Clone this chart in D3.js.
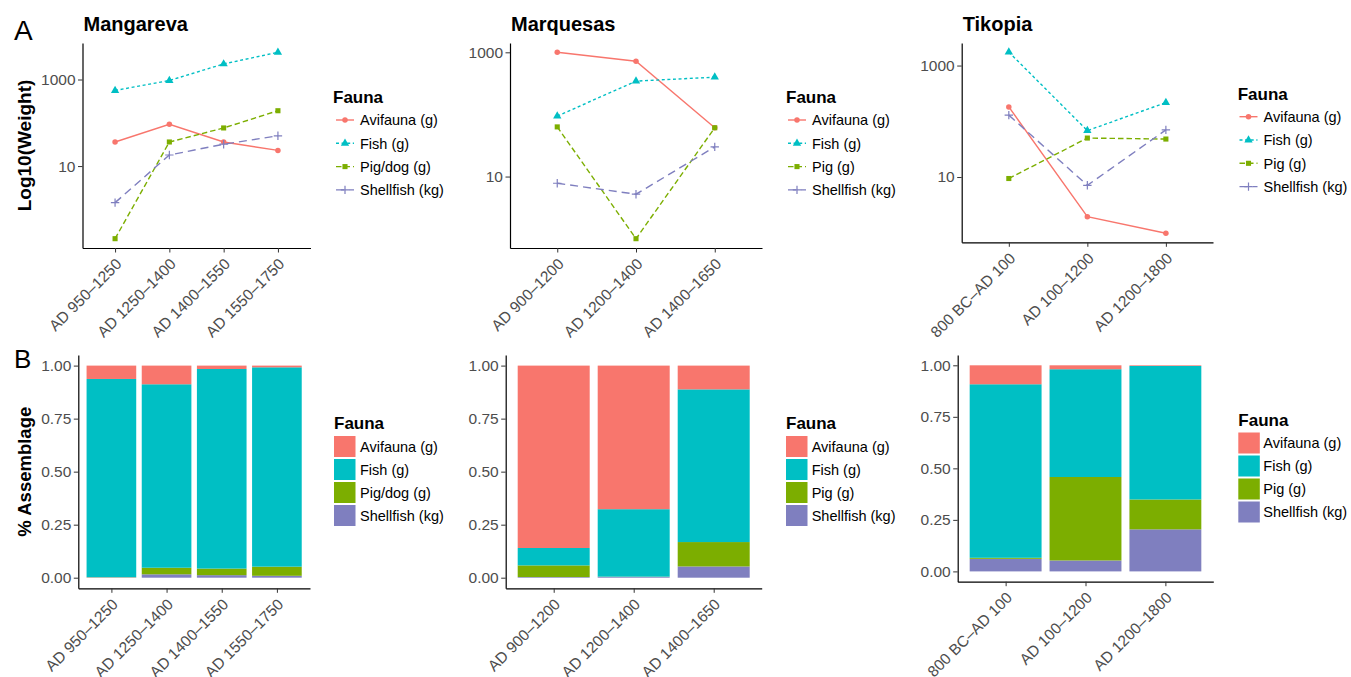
<!DOCTYPE html>
<html><head><meta charset="utf-8">
<script src="https://cdn.jsdelivr.net/npm/d3@7"></script>
<style>
body{margin:0;background:#fff;}
svg{display:block;font-family:"Liberation Sans",Arial,Helvetica,sans-serif;}
</style></head><body>
<svg id="chart" width="1351" height="677"></svg>
<script>
// ---------------- DATA ----------------
const faunaMangareva = ["Avifauna (g)", "Fish (g)", "Pig/dog (g)", "Shellfish (kg)"];
const faunaOther = ["Avifauna (g)", "Fish (g)", "Pig (g)", "Shellfish (kg)"];

const mangarevaPeriods = ["AD 950\u20131250", "AD 1250\u20131400", "AD 1400\u20131550", "AD 1550\u20131750"];
const marquesasPeriods = ["AD 900\u20131200", "AD 1200\u20131400", "AD 1400\u20131650"];
const tikopiaPeriods = ["800 BC\u2013AD 100", "AD 100\u20131200", "AD 1200\u20131800"];

// Weights (panel A, log scale)
const mangarevaAvifauna = [36, 92, 36, 23];
const mangarevaFish = [558, 950, 2290, 4250];
const mangarevaPig = [0.21, 36, 76, 190];
const mangarevaShellfish = [1.43, 18, 32, 50];

const marquesasAvifauna = [1000, 718, 61];
const marquesasFish = [94, 344, 398];
const marquesasPig = [63, 1.0, 61];
const marquesasShellfish = [7.8, 5.2, 30];

const tikopiaAvifauna = [181, 1.94, 0.98];
const tikopiaFish = [1746, 68, 216];
const tikopiaPig = [9.4, 50, 48];
const tikopiaShellfish = [129, 7.1, 70];

// Proportions (panel B)
const mangarevaShareAvifauna = [0.063, 0.088, 0.016, 0.008];
const mangarevaShareFish = [0.934, 0.865, 0.941, 0.940];
const mangarevaSharePig = [0.001, 0.031, 0.031, 0.043];
const mangarevaShareShellfish = [0.002, 0.016, 0.012, 0.009];

const marquesasShareAvifauna = [0.860, 0.677, 0.112];
const marquesasShareFish = [0.082, 0.318, 0.720];
const marquesasSharePig = [0.055, 0.001, 0.115];
const marquesasShareShellfish = [0.003, 0.004, 0.053];

const tikopiaShareAvifauna = [0.092, 0.019, 0.003];
const tikopiaShareFish = [0.842, 0.523, 0.648];
const tikopiaSharePig = [0.005, 0.405, 0.145];
const tikopiaShareShellfish = [0.061, 0.053, 0.204];

const logTicks = [10, 1000];
const shareTicks = [0, 0.25, 0.5, 0.75, 1];

// ---------------- STYLE / LAYOUT ----------------
const COLORS = ["#F8766D", "#00BFC4", "#7CAE00", "#7F7FBF"];
const DASH = [null, "3,2.6", "5.5,3", "8,5"];
const SHAPES = ["circle", "triangle", "square", "plus"];
const TICK_FONT = 15.5, LEG_FONT = 14.5;

const sites = [
  {name: "Mangareva", periods: mangarevaPeriods, fauna: faunaMangareva,
   weights: [mangarevaAvifauna, mangarevaFish, mangarevaPig, mangarevaShellfish],
   shares: [mangarevaShareAvifauna, mangarevaShareFish, mangarevaSharePig, mangarevaShareShellfish]},
  {name: "Marquesas", periods: marquesasPeriods, fauna: faunaOther,
   weights: [marquesasAvifauna, marquesasFish, marquesasPig, marquesasShellfish],
   shares: [marquesasShareAvifauna, marquesasShareFish, marquesasSharePig, marquesasShareShellfish]},
  {name: "Tikopia", periods: tikopiaPeriods, fauna: faunaOther,
   weights: [tikopiaAvifauna, tikopiaFish, tikopiaPig, tikopiaShellfish],
   shares: [tikopiaShareAvifauna, tikopiaShareFish, tikopiaSharePig, tikopiaShareShellfish]}
];

const lineBoxes = [
  {x0: 82.5, x1: 310.5, y0: 43, y1: 248, lx: 333, lyTitle: 103, ly: 120, keyCx: 345, tx: 360},
  {x0: 510, x1: 762, y0: 43, y1: 248, lx: 786, lyTitle: 103, ly: 120, keyCx: 797, tx: 812},
  {x0: 961.7, x1: 1213, y0: 43, y1: 242.3, lx: 1237.7, lyTitle: 99.5, ly: 116.7, keyCx: 1248.5, tx: 1263.5}
];
const barBoxes = [
  {x0: 78.3, x1: 310, y0: 355, y1: 588.3, lx: 334, lyTitle: 428.5, ky: 436, tx: 360},
  {x0: 505.7, x1: 761.7, y0: 355, y1: 588.3, lx: 786, lyTitle: 428.5, ky: 436, tx: 811.7},
  {x0: 957.7, x1: 1213.3, y0: 355, y1: 581.7, lx: 1238.3, lyTitle: 426, ky: 432.5, tx: 1263.3}
];

const svg = d3.select("#chart");

function styleAxis(g) {
  g.select(".domain").attr("stroke", "#000").attr("stroke-width", 1.2);
  g.selectAll(".tick line").attr("stroke", "#333").attr("stroke-width", 1);
  g.selectAll(".tick text").attr("fill", "#4D4D4D").style("font-size", TICK_FONT + "px")
    .style("font-family", '"Liberation Sans",Arial,sans-serif');
}

function drawXAxis(g, x, y1) {
  const ax = g.append("g").attr("transform", `translate(0,${y1})`)
    .call(d3.axisBottom(x).tickSize(4.5).tickSizeOuter(0));
  styleAxis(ax);
  ax.selectAll(".tick text").attr("x", 0).attr("y", 0).attr("dy", 0)
    .attr("transform", "translate(7,17) rotate(-45)").style("text-anchor", "end");
}

function symbolPath(shape) {
  if (shape === "circle") return d3.symbol(d3.symbolCircle, 24)();
  if (shape === "triangle") return d3.symbol(d3.symbolTriangle, 30)();
  if (shape === "square") return d3.symbol(d3.symbolSquare, 26)();
  return "M-4.2,0H4.2M0,-4.2V4.2";
}
function drawPoint(g, shape, color, cx, cy) {
  const p = g.append("path").attr("d", symbolPath(shape)).attr("transform", `translate(${cx},${cy})`);
  if (shape === "plus") p.attr("fill", "none").attr("stroke", color).attr("stroke-width", 1.2);
  else p.attr("fill", color);
}

// ---------------- PANEL A ----------------
sites.forEach((s, si) => {
  const b = lineBoxes[si];
  const g = svg.append("g");
  const x = d3.scalePoint().domain(s.periods).range([b.x0, b.x1]).padding(0.6);
  const logs = s.weights.flat().map(v => Math.log10(v));
  const lo = d3.min(logs), hi = d3.max(logs), pad = (hi - lo) * 0.05;
  const y = d3.scaleLog().domain([10 ** (lo - pad), 10 ** (hi + pad)]).range([b.y1, b.y0]);

  const line = d3.line().x((d, i) => x(s.periods[i])).y(d => y(d));
  s.weights.forEach((vals, k) => {
    g.append("path").datum(vals).attr("d", line).attr("fill", "none")
      .attr("stroke", COLORS[k]).attr("stroke-width", 1.4)
      .attr("stroke-dasharray", DASH[k]);
  });
  s.weights.forEach((vals, k) => {
    vals.forEach((v, i) => drawPoint(g, SHAPES[k], COLORS[k], x(s.periods[i]), y(v)));
  });

  const ay = g.append("g").attr("transform", `translate(${b.x0},0)`)
    .call(d3.axisLeft(y).tickValues(logTicks).tickFormat(d3.format("d")).tickSize(4.5).tickSizeOuter(0).tickPadding(2.5));
  styleAxis(ay);
  drawXAxis(g, x, b.y1);

  g.append("text").attr("x", b.x0 + 1).attr("y", 31).text(s.name)
    .style("font-size", "20px").style("font-weight", "bold").attr("fill", "#000");

  // legend
  g.append("text").attr("x", b.lx).attr("y", b.lyTitle).text("Fauna")
    .style("font-size", "17px").style("font-weight", "bold");
  s.fauna.forEach((f, k) => {
    const cy = b.ly + 23.3 * k;
    g.append("line").attr("x1", b.keyCx - 9).attr("x2", b.keyCx + 9).attr("y1", cy).attr("y2", cy)
      .attr("stroke", COLORS[k]).attr("stroke-width", 1.4).attr("stroke-dasharray", DASH[k]);
    drawPoint(g, SHAPES[k], COLORS[k], b.keyCx, cy);
    g.append("text").attr("x", b.tx).attr("y", cy + 5.2).text(f)
      .style("font-size", LEG_FONT + "px").attr("fill", "#000");
  });
});

// ---------------- PANEL B ----------------
sites.forEach((s, si) => {
  const b = barBoxes[si];
  const g = svg.append("g");
  const x = d3.scaleBand().domain(s.periods).range([b.x0, b.x1]).paddingInner(0.1).paddingOuter(0.15);
  const y = d3.scaleLinear().domain([-0.05, 1.05]).range([b.y1, b.y0]);
  s.periods.forEach((p, i) => {
    let cum = 0;
    [3, 2, 1, 0].forEach(k => {
      const v = s.shares[k][i];
      g.append("rect").attr("x", x(p)).attr("width", x.bandwidth())
        .attr("y", y(cum + v)).attr("height", y(cum) - y(cum + v))
        .attr("fill", COLORS[k]);
      cum += v;
    });
  });
  const ay = g.append("g").attr("transform", `translate(${b.x0},0)`)
    .call(d3.axisLeft(y).tickValues(shareTicks).tickFormat(d3.format(".2f")).tickSize(4.5).tickSizeOuter(0).tickPadding(2.5));
  styleAxis(ay);
  const xb = d3.scalePoint().domain(s.periods).range([b.x0, b.x1]).padding(0.6);
  drawXAxis(g, xb, b.y1);

  g.append("text").attr("x", b.lx).attr("y", b.lyTitle).text("Fauna")
    .style("font-size", "17px").style("font-weight", "bold");
  s.fauna.forEach((f, k) => {
    const ky = b.ky + 23 * k;
    g.append("rect").attr("x", b.lx).attr("y", ky).attr("width", 21.5).attr("height", 21)
      .attr("fill", COLORS[k]);
    g.append("text").attr("x", b.tx).attr("y", ky + 15.5).text(f)
      .style("font-size", LEG_FONT + "px").attr("fill", "#000");
  });
});

// axis titles and panel letters
svg.append("text").attr("transform", "translate(31,145.5) rotate(-90)").attr("text-anchor", "middle")
  .text("Log10(Weight)").style("font-size", "19px").style("font-weight", "bold");
svg.append("text").attr("transform", "translate(31,471.7) rotate(-90)").attr("text-anchor", "middle")
  .text("% Assemblage").style("font-size", "18.5px").style("font-weight", "bold");
svg.append("text").attr("x", 14).attr("y", 40).text("A").style("font-size", "28px");
svg.append("text").attr("x", 14).attr("y", 368).text("B").style("font-size", "26px");
</script>
</body></html>
